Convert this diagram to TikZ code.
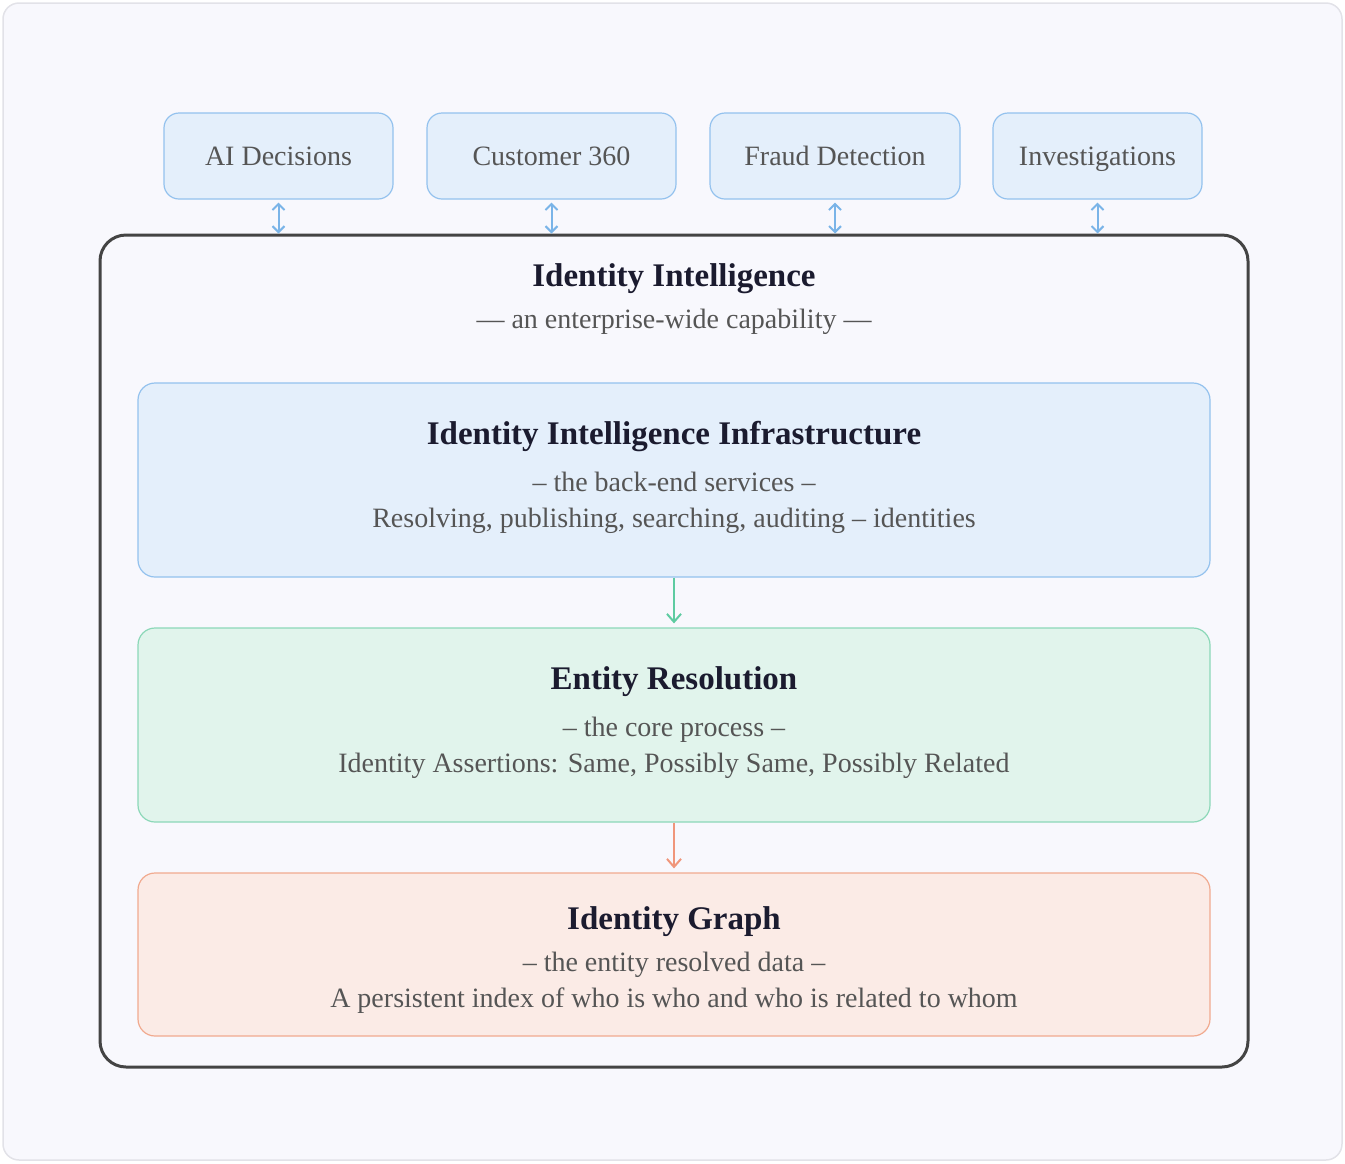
\documentclass[tikz,border=0pt]{standalone}
\usepackage{fontspec}
\setmainfont{Liberation Serif}
\usetikzlibrary{arrows.meta}

\definecolor{pagebg}{HTML}{F8F8FD}
\definecolor{pageline}{HTML}{E2E2E8}
\definecolor{frame}{HTML}{444444}
\definecolor{titlecol}{HTML}{1B1B2F}
\definecolor{bodycol}{HTML}{555555}
\definecolor{bluefill}{HTML}{E4EFFB}
\definecolor{blueline}{HTML}{94C2EE}
\definecolor{bluearrow}{HTML}{7AB4E8}
\definecolor{greenfill}{HTML}{E1F4EC}
\definecolor{greenline}{HTML}{8CD8B8}
\definecolor{greenarrow}{HTML}{5ECBA1}
\definecolor{redfill}{HTML}{FBEBE6}
\definecolor{redline}{HTML}{F1AA8F}
\definecolor{redarrow}{HTML}{F0967B}

\tikzset{
  % centre each label on its capital height
  bodycap/.style={text height=18.5pt, text depth=0pt},
  titlecap/.style={text height=21.8pt, text depth=0pt},
  consumer/.style={draw=blueline, fill=bluefill, line width=1.2pt, rounded corners=15pt,
    minimum height=86pt, inner sep=0pt},
  consumerlabel/.style={text=bodycol, font=\fontsize{28}{32}\selectfont, inner sep=0pt, bodycap},
  layer/.style={line width=1.2pt, rounded corners=17pt, minimum width=1072pt, inner sep=0pt},
  bigtitle/.style={text=titlecol, font=\fontsize{33}{38}\selectfont\bfseries, inner sep=0pt, titlecap},
  bodytext/.style={text=bodycol, font=\fontsize{28}{32}\selectfont, inner sep=0pt, bodycap},
  link/.style={line width=2pt, -{Straight Barb[length=8pt,width=14pt,line width=2pt]}},
  dlink/.style={line width=2pt, color=bluearrow, {Straight Barb[length=6pt,width=12pt,line width=2pt]}-{Straight Barb[length=6pt,width=12pt,line width=2pt]}},
}

\begin{document}
\begin{tikzpicture}[x=1pt, y=-1pt]
  \useasboundingbox (0,0) rectangle (1345,1163);
  % page card
  \draw[draw=pageline, fill=pagebg, line width=1.5pt, rounded corners=16pt] (3,3) rectangle (1342,1160);

  % consumers of the capability
  \node[consumer, minimum width=229pt] (ai)    at (278.5,156) {};
  \node[consumer, minimum width=249pt] (cust)  at (551.5,156) {};
  \node[consumer, minimum width=250pt] (fraud) at (835,156)   {};
  \node[consumer, minimum width=209pt] (inv)   at (1097.5,156) {};
  \node[consumerlabel] (ailabel)    at (ai)    {AI Decisions};
  \node[consumerlabel] (custlabel)  at (cust)  {Customer 360};
  \node[consumerlabel] (fraudlabel) at (fraud) {Fraud Detection};
  \node[consumerlabel] (invlabel)   at (inv)   {Investigations};

  % enterprise-wide container
  \node[draw=frame, fill=pagebg, line width=3pt, rounded corners=26pt, inner sep=0pt,
        minimum width=1148pt, minimum height=832pt] (main) at (674,651) {};
  \node[bigtitle] (maintitle) at (674,276) {Identity Intelligence};
  \node[bodytext] (mainsub) at (674,319) {— an enterprise-wide capability —};

  % connectors to the consumers
  \foreach \c in {ai,cust,fraud,inv}
    \draw[dlink, shorten <=3pt] (\c.south) -- (\c.south |- main.north);

  % three layers
  \node[layer, draw=blueline, fill=bluefill, minimum height=194pt] (infra) at (674,480) {};
  \node[bigtitle] (infratitle) at (674,434) {Identity Intelligence Infrastructure};
  \node[bodytext] (infra1) at (674,482) {– the back-end services –};
  \node[bodytext] (infra2) at (674,518) {Resolving, publishing, searching, auditing – identities};

  \node[layer, draw=greenline, fill=greenfill, minimum height=194pt] (er) at (674,725) {};
  \node[bigtitle] (ertitle) at (674,679) {Entity Resolution};
  \node[bodytext] (er1) at (674,727) {– the core process –};
  \node[bodytext] (er2) at (674,763) {Identity Assertions: Same, Possibly Same, Possibly Related};

  \node[layer, draw=redline, fill=redfill, minimum height=163pt] (graph) at (674,954.5) {};
  \node[bigtitle] (graphtitle) at (674,919) {Identity Graph};
  \node[bodytext] (graph1) at (674,962) {– the entity resolved data –};
  \node[bodytext] (graph2) at (674,998) {A persistent index of who is who and who is related to whom};

  % flow between layers
  \draw[link, color=greenarrow, shorten >=4pt] (infra.south) -- (er.north);
  \draw[link, color=redarrow, shorten >=4pt] (er.south) -- (graph.north);
\end{tikzpicture}
\end{document}
